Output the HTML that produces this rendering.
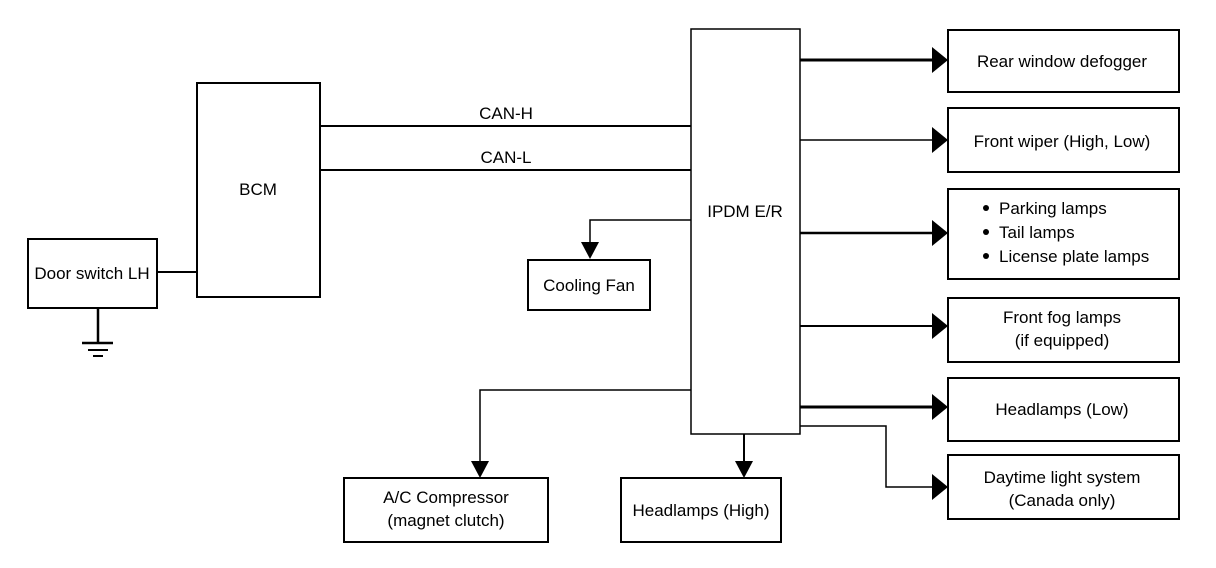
<!DOCTYPE html>
<html><head><meta charset="utf-8"><style>
html,body{margin:0;padding:0;background:#fff;}
svg{display:block;}
text{font-family:"Liberation Sans",sans-serif;font-size:17px;fill:#000;}
</style></head><body>
<svg width="1216" height="568" viewBox="0 0 1216 568" xmlns="http://www.w3.org/2000/svg">
<g fill="none" stroke="#000" stroke-width="2">
<rect x="28" y="239" width="129" height="69"/>
<rect x="197" y="83" width="123" height="214"/>
<rect x="691" y="29" width="109" height="405" stroke-width="1.5"/>
<rect x="528" y="260" width="122" height="50"/>
<rect x="344" y="478" width="204" height="64"/>
<rect x="621" y="478" width="160" height="64"/>
<rect x="948" y="30" width="231" height="62"/>
<rect x="948" y="108" width="231" height="64"/>
<rect x="948" y="189" width="231" height="90"/>
<rect x="948" y="298" width="231" height="64"/>
<rect x="948" y="378" width="231" height="63"/>
<rect x="948" y="455" width="231" height="64"/>
</g>
<g fill="none" stroke="#000">
<line x1="157" y1="272" x2="197" y2="272" stroke-width="2"/>
<line x1="98" y1="308" x2="98" y2="343" stroke-width="2.5"/>
<line x1="82" y1="343" x2="113" y2="343" stroke-width="2.5"/>
<line x1="88" y1="350" x2="108" y2="350" stroke-width="2"/>
<line x1="93" y1="356" x2="103" y2="356" stroke-width="2"/>
<line x1="320" y1="126" x2="691" y2="126" stroke-width="2"/>
<line x1="320" y1="170" x2="691" y2="170" stroke-width="2"/>
<line x1="800" y1="60" x2="934" y2="60" stroke-width="3"/>
<line x1="800" y1="140" x2="934" y2="140" stroke-width="1.5"/>
<line x1="800" y1="233" x2="934" y2="233" stroke-width="2.5"/>
<line x1="800" y1="326" x2="934" y2="326" stroke-width="2"/>
<line x1="800" y1="407" x2="934" y2="407" stroke-width="3"/>
<polyline points="800,426 886,426 886,487 934,487" stroke-width="1.5"/>
<polyline points="691,220 590,220 590,246" stroke-width="1.5"/>
<polyline points="691,390 480,390 480,464" stroke-width="1.5"/>
<line x1="744" y1="434" x2="744" y2="464" stroke-width="2"/>
</g>
<g fill="#000">
<polygon points="932,47 948,60 932,73"/>
<polygon points="932,127 948,140 932,153"/>
<polygon points="932,220 948,233 932,246"/>
<polygon points="932,313 948,326 932,339"/>
<polygon points="932,394 948,407 932,420"/>
<polygon points="932,474 948,487 932,500"/>
<polygon points="581,242 599,242 590,259"/>
<polygon points="471,461 489,461 480,478"/>
<polygon points="735,461 753,461 744,478"/>
<circle cx="986" cy="208" r="3"/>
<circle cx="986" cy="232" r="3"/>
<circle cx="986" cy="256" r="3"/>
</g>
<g text-anchor="middle">
<text x="92" y="279">Door switch LH</text>
<text x="258" y="195">BCM</text>
<text x="506" y="119">CAN-H</text>
<text x="506" y="163">CAN-L</text>
<text x="745" y="217">IPDM E/R</text>
<text x="589" y="291">Cooling Fan</text>
<text x="446" y="503">A/C Compressor</text>
<text x="446" y="526">(magnet clutch)</text>
<text x="701" y="516">Headlamps (High)</text>
<text x="1062" y="67">Rear window defogger</text>
<text x="1062" y="147">Front wiper (High, Low)</text>
<text x="1062" y="323">Front fog lamps</text>
<text x="1062" y="346">(if equipped)</text>
<text x="1062" y="415">Headlamps (Low)</text>
<text x="1062" y="483">Daytime light system</text>
<text x="1062" y="506">(Canada only)</text>
</g>
<text x="999" y="214">Parking lamps</text>
<text x="999" y="238">Tail lamps</text>
<text x="999" y="262">License plate lamps</text>
</svg>
</body></html>
